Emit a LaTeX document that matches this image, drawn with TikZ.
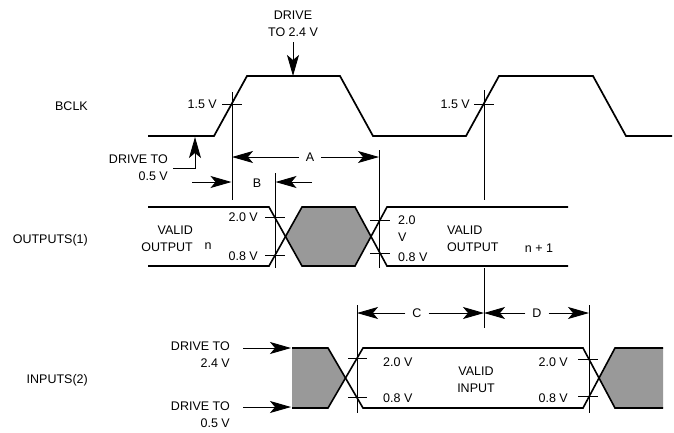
\documentclass[tikz,border=0pt]{standalone}
\usepackage{fontspec}
\setmainfont{Liberation Sans}
\usetikzlibrary{arrows.meta}

\begin{document}
\begin{tikzpicture}[
    x=1pt, y=-1pt,
    every node/.style={font=\fontsize{12.5}{17}\selectfont, inner sep=0pt},
    wave/.style={line width=1.7pt, line join=miter},
    band/.style={line width=1.6pt, line join=miter},
    guide/.style={line width=0.7pt},
    dim/.style={->, line width=0.9pt, >={Stealth[length=21pt, width=12pt, inset=5pt]}},
    hatch/.style={fill=black!40},
    sig/.style={anchor=east}
]
    \useasboundingbox (0,0) rectangle (674,432);

    % Signal names
    \node[sig] (bclk) at (88,106) {BCLK};
    \node[sig] (outs) at (88,240) {OUTPUTS(1)};
    \node[sig] (ins) at (88,380) {INPUTS(2)};

    % BCLK waveform
    \draw[wave] (148,136) -- (214,136) -- (247,76) -- (340,76) -- (373,136)
        -- (466,136) -- (499,76) -- (593,76) -- (626,136) -- (672,136);
    \draw[guide] (222,104) -- (242,104);
    \draw[guide] (232,92) -- (232,200);
    \node[sig] (v15a) at (217,104) {1.5 V};
    \draw[guide] (474,104) -- (494,104);
    \draw[guide] (484,90) -- (484,200);
    \draw[guide] (484,268) -- (484,328);
    \node[sig] (v15b) at (470,104) {1.5 V};

    % Drive levels on BCLK
    \node[align=center] (drv24) at (293,24) {DRIVE\\TO 2.4 V};
    \coordinate (clkhigh) at (293,76);
    \draw[dim] ([yshift=-5pt]drv24.south) -- (clkhigh);
    \node[align=right, anchor=east] (drv05) at (168,168) {DRIVE TO\\0.5 V};
    \coordinate (clklow) at (195,137);
    \draw[dim] ([xshift=5pt]drv05.east) -| (clklow);

    % A and B
    \coordinate (aL) at (232,157);
    \coordinate (aR) at (379,157);
    \node (lblA) at (310,157) {A};
    \draw[dim] ([xshift=-7pt]lblA.west) -- (aL);
    \draw[dim] ([xshift=7pt]lblA.east) -- (aR);
    \draw[guide] (379,150) -- (379,268);
    \node (lblB) at (257,183) {B};
    \coordinate (bL) at (192,182);
    \coordinate (bR) at (312,182);
    \draw[dim] (bL) -- (231.5,182);
    \draw[dim] (bR) -- (275.5,182);
    \draw[guide] (275,173) -- (275,268);

    % Outputs
    \fill[hatch] (285.5,236.5) -- (302,207) -- (355,207) -- (371,236.5) -- (355,266) -- (302,266) -- cycle;
    \draw[band] (148,207) -- (269,207) -- (302,266) -- (355,266) -- (387,207) -- (568,207);
    \draw[band] (148,266) -- (269,266) -- (302,207) -- (355,207) -- (387,266) -- (568,266);
    \draw[guide] (265,217.7) -- (285,217.7);
    \draw[guide] (265,255.3) -- (285,255.3);
    \node[sig] (o20a) at (258,217) {2.0 V};
    \node[sig] (o08a) at (258,256) {0.8 V};
    \draw[guide] (370,220) -- (390,220);
    \draw[guide] (370,253) -- (390,253);
    \node[align=left, anchor=west] (o20b) at (398,229) {2.0\\V};
    \node[anchor=west] (o08b) at (398,257) {0.8 V};
    \node[align=right, anchor=east] (valn) at (193,239) {VALID\\OUTPUT};
    \node (nn) at (208,246) {n};
    \node[align=left, anchor=west] (valn1) at (447,239) {VALID\\OUTPUT};
    \node (nn1) at (539,248) {n + 1};

    % C and D
    \coordinate (cL) at (357,313);
    \coordinate (cR) at (484,313);
    \coordinate (dR) at (589,313);
    \node (lblC) at (417,313) {C};
    \node (lblD) at (537,313) {D};
    \draw[dim] ([xshift=-7pt]lblC.west) -- (cL);
    \draw[dim] ([xshift=7pt]lblC.east) -- (cR);
    \draw[dim] ([xshift=-7pt]lblD.west) -- (cR);
    \draw[dim] ([xshift=7pt]lblD.east) -- (dR);
    \draw[guide] (357,305) -- (357,413);
    \draw[guide] (589,305) -- (589,413);

    % Inputs
    \fill[hatch] (292,348) -- (328,348) -- (345.5,378) -- (328,408) -- (292,408) -- cycle;
    \fill[hatch] (599,378) -- (615,348) -- (663,348) -- (663,408) -- (615,408) -- cycle;
    \draw[band] (292,348) -- (328,348) -- (363,408) -- (583,408) -- (615,348) -- (663,348);
    \draw[band] (292,408) -- (328,408) -- (363,348) -- (583,348) -- (615,408) -- (663,408);
    \draw[guide] (348,358.3) -- (367,358.3);
    \draw[guide] (348,397.7) -- (367,397.7);
    \draw[guide] (578,359.3) -- (598,359.3);
    \draw[guide] (578,396.7) -- (598,396.7);
    \node[anchor=west] (i20a) at (383,362) {2.0 V};
    \node[anchor=west] (i08a) at (383,398) {0.8 V};
    \node[sig] (i20b) at (568,362) {2.0 V};
    \node[sig] (i08b) at (568,398) {0.8 V};
    \node[align=center] (valin) at (476,380) {VALID\\INPUT};

    % Drive levels on inputs
    \node[align=right, anchor=east] (in24) at (230,355) {DRIVE TO\\2.4 V};
    \node[align=right, anchor=east] (in05) at (230,415) {DRIVE TO\\0.5 V};
    \coordinate (inhi) at (291,348);
    \coordinate (inlo) at (291,407);
    \draw[dim] (243,348) -- (inhi);
    \draw[dim] (243,407) -- (inlo);
\end{tikzpicture}
\end{document}
